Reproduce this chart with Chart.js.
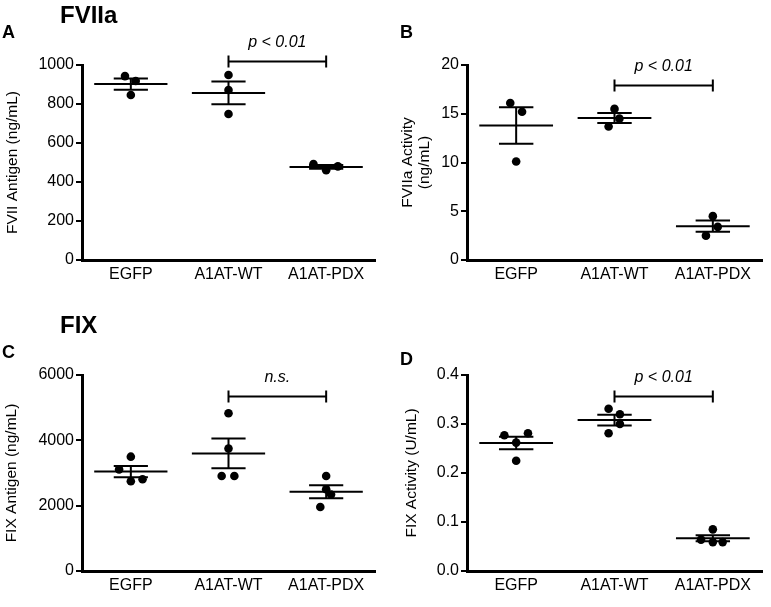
<!DOCTYPE html>
<html>
<head>
<meta charset="utf-8">
<script src="https://cdn.jsdelivr.net/npm/chart.js@4"></script>
<style>
  body { margin: 0; background: #fff; }
  #wrap { position: relative; width: 771px; height: 607px; }
  canvas { position: absolute; }
</style>
</head>
<body>
<div id="wrap">
  <canvas id="chartA" width="385" height="300" style="left:0;top:0"></canvas>
  <canvas id="chartB" width="386" height="300" style="left:385px;top:0"></canvas>
  <canvas id="chartC" width="385" height="307" style="left:0;top:300px"></canvas>
  <canvas id="chartD" width="386" height="307" style="left:385px;top:300px"></canvas>
</div>
<script>
const groups = ['EGFP', 'A1AT-WT', 'A1AT-PDX'];

// values, one inner list per group
const fviiAntigen = [[943, 918, 846], [949, 872, 749], [492, 460, 480]];
const fviiaActivity = [[16.1, 15.2, 10.1], [15.5, 14.5, 13.7], [4.5, 3.4, 2.5]];
const fixAntigen = [[3500, 3110, 2750, 2810], [4830, 3750, 2910, 2910], [2910, 2500, 2340, 1960]];
const fixActivity = [[0.277, 0.281, 0.262, 0.225], [0.331, 0.320, 0.300, 0.281], [0.085, 0.064, 0.059, 0.059]];

const ticksA = [0, 200, 400, 600, 800, 1000];
const ticksB = [0, 5, 10, 15, 20];
const ticksC = [0, 2000, 4000, 6000];
const ticksD = [0, 0.1, 0.2, 0.3, 0.4];

// horizontal spread of the dots inside each group (category units)
const jitterA = [[-0.06, 0.05, 0], [0, 0, 0], [-0.13, 0, 0.12]];
const jitterB = [[-0.06, 0.06, 0], [0, 0.05, -0.06], [0, 0.05, -0.07]];
const jitterC = [[0, -0.12, 0, 0.12], [0, 0, -0.07, 0.06], [0, 0, 0.05, -0.06]];
const jitterD = [[-0.12, 0.12, 0, 0], [-0.06, 0.055, 0.055, -0.06], [0, -0.12, 0, 0.1]];

const FONT = "'Liberation Sans', Arial, Helvetica, sans-serif";
Chart.defaults.font.family = FONT;
Chart.defaults.color = '#000';

function stats(vals) {
  const n = vals.length;
  const mean = vals.reduce((a, b) => a + b, 0) / n;
  const sd = Math.sqrt(vals.reduce((a, b) => a + (b - mean) ** 2, 0) / (n - 1));
  return { mean: mean, sem: sd / Math.sqrt(n) };
}

function extrasPlugin(p) {
  return {
    id: 'extras',
    beforeDatasetsDraw(chart) {
      // mean line with SEM whiskers
      const { ctx, scales: { x, y } } = chart;
      ctx.save();
      ctx.strokeStyle = '#000';
      ctx.lineWidth = 2;
      p.values.forEach((vals, i) => {
        const s = stats(vals);
        const ym = y.getPixelForValue(s.mean);
        const yh = y.getPixelForValue(s.mean + s.sem);
        const yl = y.getPixelForValue(s.mean - s.sem);
        const xc = x.getPixelForValue(i);
        ctx.beginPath();
        ctx.moveTo(x.getPixelForValue(i - 0.375), ym);
        ctx.lineTo(x.getPixelForValue(i + 0.375), ym);
        ctx.moveTo(x.getPixelForValue(i - 0.175), yh);
        ctx.lineTo(x.getPixelForValue(i + 0.175), yh);
        ctx.moveTo(x.getPixelForValue(i - 0.175), yl);
        ctx.lineTo(x.getPixelForValue(i + 0.175), yl);
        ctx.moveTo(xc, yh);
        ctx.lineTo(xc, yl);
        ctx.stroke();
      });
      ctx.restore();
    },
    afterDraw(chart) {
      const { ctx, scales: { x, y } } = chart;
      ctx.save();
      // significance bracket
      const x1 = x.getPixelForValue(1), x2 = x.getPixelForValue(2);
      const yb = Math.round(y.getPixelForValue(p.bracketY)) + 0.5;
      ctx.strokeStyle = '#000';
      ctx.lineWidth = 2;
      ctx.beginPath();
      ctx.moveTo(x1, yb); ctx.lineTo(x2, yb);
      ctx.moveTo(x1, yb - 6); ctx.lineTo(x1, yb + 6);
      ctx.moveTo(x2, yb - 6); ctx.lineTo(x2, yb + 6);
      ctx.stroke();
      ctx.fillStyle = '#000';
      ctx.textAlign = 'center';
      ctx.textBaseline = 'alphabetic';
      ctx.font = 'italic 16px ' + FONT;
      ctx.fillText(p.sig, (x1 + x2) / 2, yb - 15);
      // panel letter and section heading
      ctx.textAlign = 'left';
      ctx.font = 'bold 18px ' + FONT;
      ctx.fillText(p.letter[0], p.letter[1], p.letter[2]);
      if (p.heading) {
        ctx.font = 'bold 24px ' + FONT;
        ctx.fillText(p.heading[0], p.heading[1], p.heading[2]);
      }
      ctx.restore();
    }
  };
}

function makeChart(id, p) {
  const points = [];
  p.values.forEach((vals, i) => vals.forEach((v, j) => points.push({ x: i + p.jitter[i][j], y: v })));
  return new Chart(document.getElementById(id), {
    type: 'scatter',
    data: {
      datasets: [{
        data: points,
        pointRadius: 4.3,
        pointHoverRadius: 4.3,
        backgroundColor: '#000',
        borderColor: '#000',
        borderWidth: 0
      }]
    },
    options: {
      responsive: false,
      animation: false,
      layout: { padding: p.pad },
      plugins: { legend: { display: false }, tooltip: { enabled: false } },
      scales: {
        x: {
          type: 'linear',
          min: -0.5,
          max: 2.5,
          afterBuildTicks: s => { s.ticks = groups.map((g, i) => ({ value: i })); },
          afterFit: s => { s.height = p.xHeight; },
          ticks: {
            callback: v => groups[v],
            color: '#000',
            font: { size: 16 },
            padding: 5,
            maxRotation: 0,
            autoSkip: false
          },
          grid: { display: false, drawTicks: false },
          border: { display: true, color: '#000', width: 3 }
        },
        y: {
          min: 0,
          max: p.ticks[p.ticks.length - 1],
          afterBuildTicks: s => { s.ticks = p.ticks.map(v => ({ value: v })); },
          afterFit: s => { s.width = 82; },
          ticks: {
            callback: p.fmt,
            color: '#000',
            font: { size: 16 },
            padding: 2
          },
          grid: { drawOnChartArea: false, drawTicks: true, tickLength: 6, color: '#000', lineWidth: 2 },
          border: { display: true, color: '#000', width: 3 },
          title: {
            display: true,
            text: p.title,
            color: '#000',
            font: { size: 15.5, lineHeight: 1.05 },
            padding: { top: p.titlePad, bottom: 0 }
          }
        }
      }
    },
    plugins: [extrasPlugin(p)]
  });
}

makeChart('chartA', {
  values: fviiAntigen, jitter: jitterA, ticks: ticksA, fmt: v => String(v),
  title: 'FVII Antigen (ng/mL)', titlePad: 5,
  pad: { left: 0, top: 65, right: 10, bottom: 0 }, xHeight: 40,
  bracketY: 1020, sig: 'p < 0.01',
  letter: ['A', 2, 38], heading: ['FVIIa', 60, 23]
});
makeChart('chartB', {
  values: fviiaActivity, jitter: jitterB, ticks: ticksB, fmt: v => String(v),
  title: ['FVIIa Activity', '(ng/mL)'], titlePad: 15,
  pad: { left: 0, top: 65, right: 9, bottom: 0 }, xHeight: 40,
  bracketY: 17.95, sig: 'p < 0.01',
  letter: ['B', 15, 38]
});
makeChart('chartC', {
  values: fixAntigen, jitter: jitterC, ticks: ticksC, fmt: v => String(v),
  title: 'FIX Antigen (ng/mL)', titlePad: 4,
  pad: { left: 0, top: 75, right: 10, bottom: 0 }, xHeight: 36,
  bracketY: 5350, sig: 'n.s.',
  letter: ['C', 2, 58], heading: ['FIX', 60, 33]
});
makeChart('chartD', {
  values: fixActivity, jitter: jitterD, ticks: ticksD, fmt: v => v.toFixed(1),
  title: 'FIX Activity (U/mL)', titlePad: 19,
  pad: { left: 0, top: 75, right: 9, bottom: 0 }, xHeight: 36,
  bracketY: 0.357, sig: 'p < 0.01',
  letter: ['D', 15, 65]
});
</script>
</body>
</html>
